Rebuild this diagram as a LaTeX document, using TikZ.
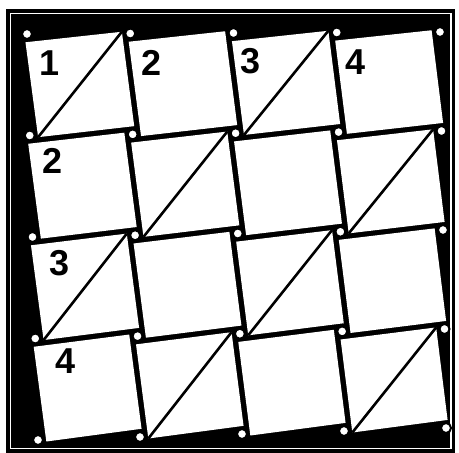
\documentclass[tikz,border=0pt]{standalone}
\usepackage{fontspec}
\newfontfamily\digitfont{Liberation Sans}
\usetikzlibrary{calc}

\begin{document}
\begin{tikzpicture}[
  x=1pt, y=-1pt,
  tile/.style={fill=white},
  diag/.style={line width=2.6pt},
  dot/.style={
    circle, draw=black, line width=2pt, fill=white,
    inner sep=0pt, minimum size=10pt
  },
  numlabel/.style={
    inner sep=0pt, font=\digitfont\bfseries\fontsize{36}{36}\selectfont
  },
]
\useasboundingbox (0,0) rectangle (459,453);

% Frame
\fill[black] (6,9) rectangle (455,453);
\draw[white, line width=1.5pt] (10.5,13.5) rectangle (451,448.5);

% Corner points of the grid
\foreach \i in {0,...,4}{
  \foreach \j in {0,...,4}{
    \coordinate (p\i\j) at
      ({27 + 103.25*\i + 2.75*\j - 5*\i*\j/16},
       {34 - 0.5*\i + 101.5*\j - 10*\i*\j/16});
  }
}

% Tiles, each one turned a little
\foreach \i in {0,...,3}{
  \foreach \j in {0,...,3}{
    \pgfmathtruncatemacro\ii{\i+1}
    \pgfmathtruncatemacro\jj{\j+1}
    \coordinate (tl\i\j) at ($(p\i\j)!0.083!-12:(p\i\jj)$);
    \coordinate (tr\i\j) at ($(p\ii\j)!0.083!-12:(p\i\j)$);
    \coordinate (br\i\j) at ($(p\ii\jj)!0.083!-12:(p\ii\j)$);
    \coordinate (bl\i\j) at ($(p\i\jj)!0.083!-12:(p\ii\jj)$);
    \fill[tile] (tl\i\j) -- (tr\i\j) -- (br\i\j) -- (bl\i\j) -- cycle;
  }
}

% Diagonals
\foreach \i/\j in {0/0,2/0,1/1,3/1,0/2,2/2,1/3,3/3}
  \draw[diag] (bl\i\j) -- (tr\i\j);

% Dots
\foreach \i in {0,...,4}{
  \foreach \j in {0,...,4}{
    \node[dot] (d\i\j) at (p\i\j) {};
  }
}

% Numbers
\node[numlabel] (top1) at (50,63) {1};
\node[numlabel] (top2) at (152,63) {2};
\node[numlabel] (top3) at (251,61) {3};
\node[numlabel] (top4) at (356,62) {4};
\node[numlabel] (left2) at (53,161) {2};
\node[numlabel] (left3) at (60,263) {3};
\node[numlabel] (left4) at (66,361) {4};

\end{tikzpicture}
\end{document}
